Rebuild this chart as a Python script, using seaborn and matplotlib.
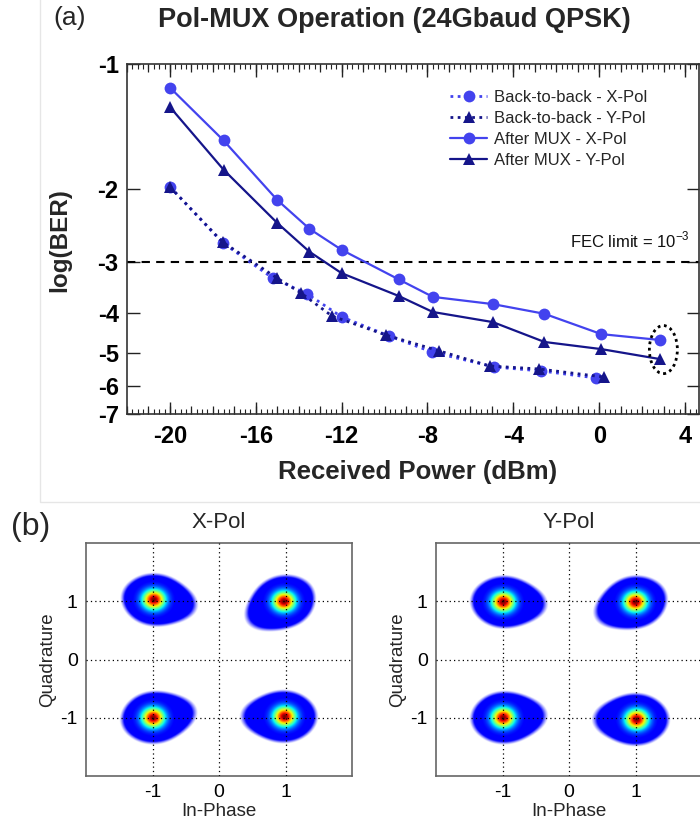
import numpy as np
import matplotlib
matplotlib.use('Agg')
import matplotlib.pyplot as plt
import seaborn as sns
from matplotlib.patches import Ellipse, Rectangle
from matplotlib.lines import Line2D
from matplotlib.ticker import FixedLocator, MultipleLocator, NullLocator
from matplotlib.colors import LinearSegmentedColormap

# ---------------- data (a) ----------------
power_mux = [-20, -17.5, -15, -13.5, -12, -9.35, -7.75, -4.95, -2.55, 0.1, 2.85]
ber_mux_x = [-1.14, -1.53, -2.13, -2.50, -2.81, -3.31, -3.65, -3.80, -4.01, -4.49, -4.64]
ber_mux_y = [-1.27, -1.80, -2.42, -2.84, -3.20, -3.63, -3.97, -4.20, -4.69, -4.88, -5.16]
power_b2b_x = [-20, -17.55, -15.2, -13.6, -12.0, -9.77, -7.78, -4.9, -2.7, -0.14]
ber_b2b_x = [-1.98, -2.70, -3.29, -3.59, -4.08, -4.54, -4.96, -5.39, -5.51, -5.73]
power_b2b_y = [-20, -17.55, -15.0, -13.9, -12.45, -9.95, -7.45, -5.1, -2.8, 0.23]
ber_b2b_y = [-1.98, -2.69, -3.29, -3.57, -4.06, -4.51, -4.93, -5.36, -5.45, -5.70]
labels = ['Back-to-back - X-Pol', 'Back-to-back - Y-Pol', 'After MUX - X-Pol', 'After MUX - Y-Pol']
x_ticks = [-20, -16, -12, -8, -4, 0, 4]
y_ticks = [-1, -2, -3, -4, -5, -6, -7]
fec_limit = -3

# ---------------- data (b) ----------------
const_ticks = [-1, 0, 1]
xpol_i = [-0.98, 0.98, -0.99, 0.99]
xpol_q = [1.03, 1.00, -1.00, -0.98]
xpol_tail = [-12, 215, 12, 180]
ypol_i = [-0.99, 1.00, -0.99, 1.02]
ypol_q = [0.99, 0.99, -1.00, -1.03]
ypol_tail = [-5, 205, 5, 180]

col_x = '#4343ee'
col_y = '#15158a'

sns.set_theme(style='white')
plt.rcParams['font.family'] = ['Liberation Sans', 'DejaVu Sans']
plt.rcParams['mathtext.fontset'] = 'custom'
plt.rcParams['mathtext.rm'] = 'Liberation Sans'

W, H = 700, 823
fig = plt.figure(figsize=(7, 8.23), dpi=100)
fig.patch.set_facecolor('white')
fig.add_artist(Rectangle((40 / W, 1 - 502 / H), 1, 502 / H + 0.01, transform=fig.transFigure,
                         fill=False, ec='#e6e6e6', lw=1))

# ---------------- panel (a) ----------------
ax = fig.add_axes([127 / W, 1 - 414 / H, 572 / W, 350 / H])


def fwd(y):
    y = np.asarray(y, float)
    return -np.log10(np.clip(-y, 1e-9, None))


def inv(t):
    return -10 ** (-np.asarray(t, float))


ax.set_yscale('function', functions=(fwd, inv))

dot = (0, (1, 1.6))
series = [
    (power_b2b_x, ber_b2b_x, col_x, 'o', dot, 8.5),
    (power_b2b_y, ber_b2b_y, col_y, '^', dot, 9),
    (power_mux, ber_mux_x, col_x, 'o', '-', 8.5),
    (power_mux, ber_mux_y, col_y, '^', '-', 9),
]
handles = []
for (px, py, c, m, ls, ms), lab in zip(series, labels):
    sns.lineplot(x=px, y=py, ax=ax, color=c, marker=m, linestyle=ls, markersize=ms,
                 markeredgewidth=0, linewidth=1.6 if ls == '-' else 2.0, sort=False)
    handles.append(Line2D([], [], color=c, marker=m, linestyle=ls, markersize=ms,
                          markeredgewidth=0, linewidth=1.6 if ls == '-' else 2.0))

ax.axhline(fec_limit, color='black', linestyle=(0, (4, 3)), linewidth=1.5, zorder=1)
ax.set_xlim(-22, 4.65)
ax.set_ylim(-7, -1)
ax.xaxis.set_major_locator(FixedLocator(x_ticks))
ax.xaxis.set_minor_locator(MultipleLocator(0.25))
ax.yaxis.set_major_locator(FixedLocator(y_ticks))
ax.yaxis.set_minor_locator(NullLocator())
ax.set_yticklabels([str(t) for t in y_ticks])
ax.set_xticklabels([str(t) for t in x_ticks])
ax.tick_params(axis='x', which='both', direction='in', top=True, bottom=True, colors='#222222')
ax.tick_params(axis='x', which='major', length=9, width=1, pad=8, labelsize=17)
ax.tick_params(axis='x', which='minor', length=3.5, width=0.8)
ax.tick_params(axis='y', which='major', direction='in', left=True, right=True, length=9, width=1,
               pad=6, labelsize=17, colors='#222222')
for lbl in ax.get_xticklabels() + ax.get_yticklabels():
    lbl.set_fontweight('bold')
    lbl.set_color('black')
for sp in ax.spines.values():
    sp.set_color('#333333')
    sp.set_linewidth(1.2)
for loc in ['bottom', 'top']:
    sec = ax.secondary_xaxis(loc)
    sec.set_xticks(list(range(-22, 5)))
    sec.tick_params(direction='in', length=6, width=0.9, labelbottom=False, labeltop=False,
                    colors='#222222')
    for sp in sec.spines.values():
        sp.set_visible(False)
ax.set_xlabel('')
ax.set_ylabel('')

leg = ax.legend(handles, labels, loc='upper left', bbox_to_anchor=(0.565, 0.925), frameon=False,
                fontsize=12, handlelength=2.2, handletextpad=0.4, labelspacing=0.36,
                borderpad=0, borderaxespad=0)

ax.text(0.984, 0.497, 'FEC limit = 10$^{-3}$', transform=ax.transAxes, ha='right', va='center',
        fontsize=12, color='#111111')

pts = np.array([(power_mux[-1], ber_mux_x[-1]), (power_mux[-1], ber_mux_y[-1])])
pa = ax.transAxes.inverted().transform(ax.transData.transform(pts))
ax.add_patch(Ellipse((pa[:, 0].mean() + 3 / 572, pa[:, 1].mean()), width=28 / 572,
                     height=abs(pa[0, 1] - pa[1, 1]) + 29 / 350, transform=ax.transAxes,
                     fill=False, ec='black', lw=2, ls=(0, (1, 1.3)), zorder=5))

fig.text(418 / W, 1 - 472 / H, 'Received Power (dBm)', ha='center', va='center', fontsize=18.5,
         fontweight='bold')
fig.text(60 / W, 1 - 240 / H, 'log(BER)', ha='center', va='center', rotation=90, fontsize=17.5,
         fontweight='bold')
fig.text(394 / W, 1 - 20 / H, 'Pol-MUX Operation (24Gbaud QPSK)', ha='center', va='center',
         fontsize=19.5, fontweight='bold')
fig.text(70 / W, 1 - 18 / H, '(a)', ha='center', va='center', fontsize=19)

# ---------------- panel (b) ----------------
jet = LinearSegmentedColormap.from_list('jet_trunc', plt.cm.jet(np.linspace(0.11, 1.0, 256)))
g = np.linspace(-2, 2, 601)
GX, GY = np.meshgrid(g, g)


def cloud_rgba(ci, cq, tails):
    val = np.zeros_like(GX)
    support = np.zeros_like(GX)
    for cx, cy, ang in zip(ci, cq, tails):
        dx, dy = GX - cx, GY - cy
        r2 = dx ** 2 + dy ** 2
        a = np.deg2rad(ang)
        along = dx * np.cos(a) + dy * np.sin(a)
        perp = -dx * np.sin(a) + dy * np.cos(a)
        core = np.exp(-r2 / (2 * 0.115 ** 2))
        halo = np.exp(-r2 / (2 * 0.2 ** 2))
        tail = 0.8 * np.exp(-(along - 0.12) ** 2 / (2 * 0.26 ** 2) - perp ** 2 / (2 * 0.17 ** 2))
        val = np.maximum(val, core)
        support = np.maximum(support, halo + tail)
    rgba = jet(val)
    rgba[..., 3] = np.clip((support - 0.08) / 0.08, 0, 1)
    return rgba


panels = [
    (86, 'X-Pol', xpol_i, xpol_q, xpol_tail),
    (436, 'Y-Pol', ypol_i, ypol_q, ypol_tail),
]
for left, title, ci, cq, tails in panels:
    bx = fig.add_axes([left / W, 1 - 776 / H, 266 / W, 233 / H])
    bx.imshow(cloud_rgba(ci, cq, tails), extent=[-2, 2, -2, 2], origin='lower',
              interpolation='bilinear', aspect='auto', zorder=0)
    bx.set_xlim(-2, 2)
    bx.set_ylim(-2, 2)
    bx.set_xticks(const_ticks)
    bx.set_yticks(const_ticks)
    bx.set_xticklabels([str(t) for t in const_ticks])
    bx.set_yticklabels([str(t) for t in const_ticks])
    bx.set_axisbelow(False)
    bx.grid(True, color='black', linestyle=(0, (1, 2.5)), linewidth=0.9)
    bx.tick_params(length=0, labelsize=14, pad=6, colors='black')
    for sp in bx.spines.values():
        sp.set_color('#666666')
        sp.set_linewidth(1.2)
    bx.text(0.5, 1 + 21 / 233, title, transform=bx.transAxes, ha='center', va='center',
            fontsize=16)
    bx.text(-38 / 266, 0.5, 'Quadrature', transform=bx.transAxes, ha='center', va='center',
            rotation=90, fontsize=13.5)
    bx.text(0.5, -35 / 233, 'In-Phase', transform=bx.transAxes, ha='center', va='center',
            fontsize=13.5)

fig.text(31 / W, 1 - 527 / H, '(b)', ha='center', va='center', fontsize=23)

fig.savefig('out.png', dpi=100)
